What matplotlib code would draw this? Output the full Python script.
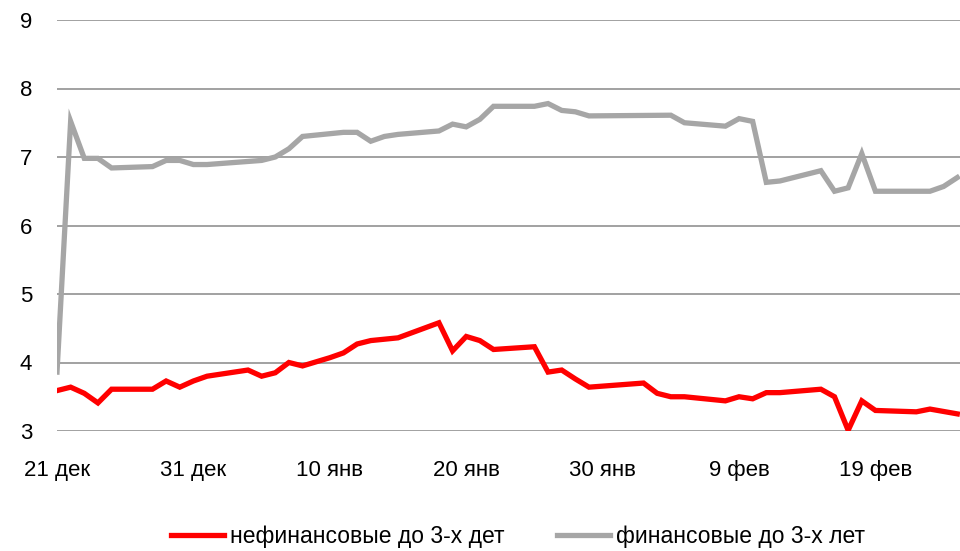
import matplotlib.pyplot as plt
from matplotlib.lines import Line2D

# days counted from 21 Dec
red_days = [0, 1, 2, 3, 4, 7, 8, 9, 10, 11, 14, 15, 16, 17, 18, 20, 21, 22, 23, 25,
            28, 29, 30, 31, 32, 35, 36, 37, 38, 39, 43, 44, 45, 46, 49, 50, 51, 52, 53,
            56, 57, 58, 59, 60, 63, 64, 66]
red_vals = [3.59, 3.64, 3.55, 3.41, 3.61, 3.61, 3.73, 3.64, 3.73, 3.80, 3.89, 3.80, 3.85,
            4.00, 3.95, 4.07, 4.14, 4.27, 4.32, 4.36, 4.58, 4.17, 4.38, 4.32, 4.19, 4.23,
            3.86, 3.89, 3.76, 3.64, 3.70, 3.55, 3.50, 3.50, 3.44, 3.50, 3.47, 3.56, 3.56,
            3.61, 3.50, 3.01, 3.44, 3.30, 3.28, 3.32, 3.25]

grey_days = [0, 1, 2, 3, 4, 7, 8, 9, 10, 11, 15, 16, 17, 18, 20, 21, 22, 23, 24, 25,
             28, 29, 30, 31, 32, 35, 36, 37, 38, 39, 45, 46, 49, 50, 51, 52, 53, 56, 57,
             58, 59, 60, 64, 65, 66]
grey_vals = [3.86, 7.52, 6.98, 6.98, 6.84, 6.86, 6.95, 6.95, 6.89, 6.89, 6.95, 7.00, 7.12,
             7.30, 7.34, 7.36, 7.36, 7.23, 7.30, 7.33, 7.38, 7.48, 7.44, 7.55, 7.74, 7.74,
             7.78, 7.68, 7.66, 7.60, 7.61, 7.50, 7.45, 7.56, 7.52, 6.63, 6.65, 6.80, 6.50,
             6.55, 7.05, 6.50, 6.50, 6.57, 6.70]

tick_days = [0, 10, 20, 30, 40, 50, 60]
tick_labels = ['21 дек', '31 дек', '10 янв', '20 янв', '30 янв', '9 фев', '19 фев']

plt.rcParams['font.family'] = ['Liberation Sans', 'DejaVu Sans']

fig = plt.figure(figsize=(9.6, 5.51), dpi=100)
ax = fig.add_axes([57 / 960, 1 - 431 / 551, 1 - 57 / 960, 411 / 551])

ax.plot(grey_days, grey_vals, color='#a6a6a6', lw=3.8, solid_joinstyle='miter')
ax.plot(red_days, red_vals, color='#ff0000', lw=3.8, solid_joinstyle='miter')

ax.set_xlim(0, 66.2)
ax.set_ylim(3, 9)
ax.set_yticks(range(3, 10))
ax.set_xticks(tick_days)
ax.set_xticklabels(tick_labels)
ax.tick_params(axis='both', length=0, labelsize=16)
ax.tick_params(axis='x', pad=21)
ax.tick_params(axis='y', pad=18)
ax.grid(axis='y', color='#9a9a9a', lw=1.3)
ax.set_axisbelow(True)
for s in ax.spines.values():
    s.set_visible(False)

handles = [Line2D([], [], color='#ff0000', lw=3.8),
           Line2D([], [], color='#a6a6a6', lw=3.8)]
fig.legend(handles, ['нефинансовые до 3-х дет', 'финансовые до 3-х лет'],
           loc='center', bbox_to_anchor=(518 / 960, 1 - 537 / 551), ncol=2,
           frameon=False, fontsize=16.5, handlelength=2.3, handletextpad=0.25,
           columnspacing=2.3, borderpad=0.2)

fig.savefig('out.png', dpi=100)
